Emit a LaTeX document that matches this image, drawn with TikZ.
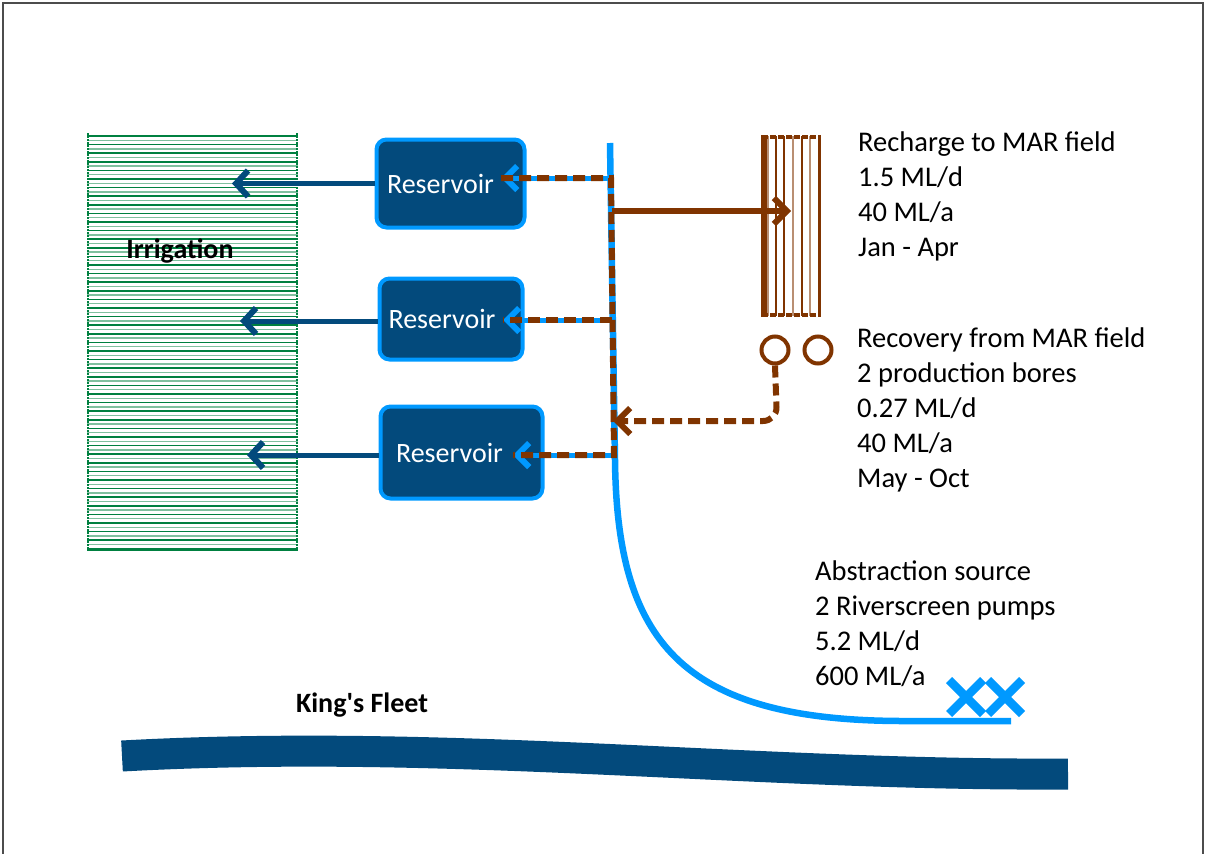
\documentclass[tikz,border=0pt]{standalone}
\usepackage{fontspec}
\setmainfont{Carlito}
\usetikzlibrary{arrows.meta}

\definecolor{resblue}{RGB}{3,74,124}
\definecolor{chanblue}{RGB}{0,153,255}
\definecolor{marbrown}{RGB}{128,52,0}
\definecolor{irrgreen}{RGB}{0,128,64}

\begin{document}
\begin{tikzpicture}[x=1pt,y=-1pt,
    reservoir/.style={draw=chanblue, line width=4pt, fill=resblue, rounded corners=10pt,
        text=white, font=\fontsize{28}{34}\selectfont, inner sep=0pt},
    supply/.style={resblue, line width=5pt, -{Straight Barb[length=12pt,width=26pt,line width=6pt]}},
    feed/.style={chanblue, line width=5pt, -{Straight Barb[length=12pt,width=24pt,line width=6pt]}},
    dashflow/.style={marbrown, line width=6pt, dash pattern=on 12pt off 6pt},
    recharge/.style={marbrown, line width=5.5pt, -{Straight Barb[length=13pt,width=26pt,line width=6pt]}},
    bore/.style={circle, draw=marbrown, line width=4pt, minimum size=27pt, inner sep=0pt},
    info/.style={anchor=north west, align=left, inner sep=0pt, font=\fontsize{28.5}{35}\selectfont},
    title/.style={font=\fontsize{28}{32}\selectfont\bfseries}]
    \useasboundingbox (0,0) rectangle (1205,854);
    \draw[gray!60!black, line width=1.5pt] (3,854) -- (3,3) -- (1203,3) -- (1203,854);

    % irrigation field
    \node[minimum width=211pt, minimum height=417pt, inner sep=0pt] (irr) at (192.5,341.5) {};
    \foreach \y in {136,144.6,...,548}
        \draw[irrgreen, line width=1.5pt] (87,\y) -- (298,\y);
    \foreach \y in {140.3,148.9,...,548}
        \draw[irrgreen!50, line width=1.5pt] (87,\y) -- (298,\y);
    \draw[irrgreen, line width=2pt, dash pattern=on 2pt off 1pt] (88,133) -- (88,550) (297,133) -- (297,550);
    \draw[irrgreen, line width=3pt] (87,549) -- (298,549);
    \node[title] (irrlabel) at (180,251) {Irrigation};

    % river
    \draw[resblue, line width=31pt] (122,756) .. controls (450,738) and (750,776) .. (1068,774);
    \node[title] (fleet) at (362,705) {King\textquotesingle s Fleet};

    % channel
    \coordinate (top) at (610,143);
    \coordinate (j1) at (611,178);
    \coordinate (j0) at (612,211);
    \coordinate (j2) at (612,320);
    \coordinate (j4) at (613,421);
    \coordinate (j3) at (614,455);
    \draw[chanblue, line width=6.5pt] (top) -- (615,460) .. controls (617,640) and (680,720) .. (900,721) -- (1011,721);
    \foreach \x in {966,1005}
        \draw[chanblue, line width=8.5pt] (\x-17,680) -- (\x+17,714) (\x-17,714) -- (\x+17,680);

    % reservoirs
    \node[reservoir, minimum width=148pt, minimum height=88pt] (res1) at (450.5,183.5) {Reservoir\hspace*{20pt}};
    \node[reservoir, minimum width=143pt, minimum height=81pt] (res2) at (451,319) {Reservoir\hspace*{18pt}};
    \node[reservoir, minimum width=162pt, minimum height=92pt] (res3) at (461.5,452.5) {Reservoir\hspace*{24pt}};

    \coordinate (in1) at (232,183.5);
    \coordinate (in2) at (240,321);
    \coordinate (in3) at (247,455);
    \draw[supply] (res1.west) -- (in1);
    \draw[supply] (res2.west |- in2) -- (in2);
    \draw[supply] (res3.west |- in3) -- (in3);

    \coordinate (t1) at (501,178);
    \coordinate (t2) at (503,320);
    \coordinate (t3) at (513,455);
    \draw[feed] (j1) -- (t1);
    \draw[feed] (j2) -- (t2);
    \draw[feed] (j3) -- (t3);
    \draw[dashflow] (t1) -- (j1) -- (j3) -- (t3);
    \draw[dashflow] (j2) -- (t2);

    % MAR field
    \node[minimum width=58pt, minimum height=182pt, inner sep=0pt] (mar) at (791,226) {};
    \foreach \x in {768,793,810}
        \draw[marbrown!55, line width=2pt] (\x,136) -- (\x,316);
    \foreach \x in {776,784,802}
        \draw[marbrown, line width=2pt] (\x,136) -- (\x,316);
    \draw[marbrown, line width=5.5pt] (764,135) -- (764,317);
    \draw[marbrown, line width=3pt] (819,135) -- (819,317);
    \draw[marbrown, line width=4pt, dash pattern=on 6pt off 2pt] (762,137) -- (820,137) (762,315) -- (820,315);
    \coordinate (m1) at (791,211);
    \draw[recharge] (j0) -- (m1);

    \node[bore] (b1) at (775,350) {};
    \node[bore] (b2) at (818,350) {};
    \draw[dashflow, rounded corners=14pt, -{Straight Barb[length=13pt,width=26pt,line width=6pt]}] (b1.south) -- (777,421) -- (j4);

    % notes
    \node[info] (rech) at (858,132) {Recharge to MAR field\\1.5 ML/d\\40 ML/a\\Jan - Apr};
    \node[info] (recov) at (857,328) {Recovery from MAR field\\2 production bores\\0.27 ML/d\\40 ML/a\\May - Oct};
    \node[info] (abs) at (815,561) {Abstraction source\\2 Riverscreen pumps\\5.2 ML/d\\600 ML/a};
\end{tikzpicture}
\end{document}
